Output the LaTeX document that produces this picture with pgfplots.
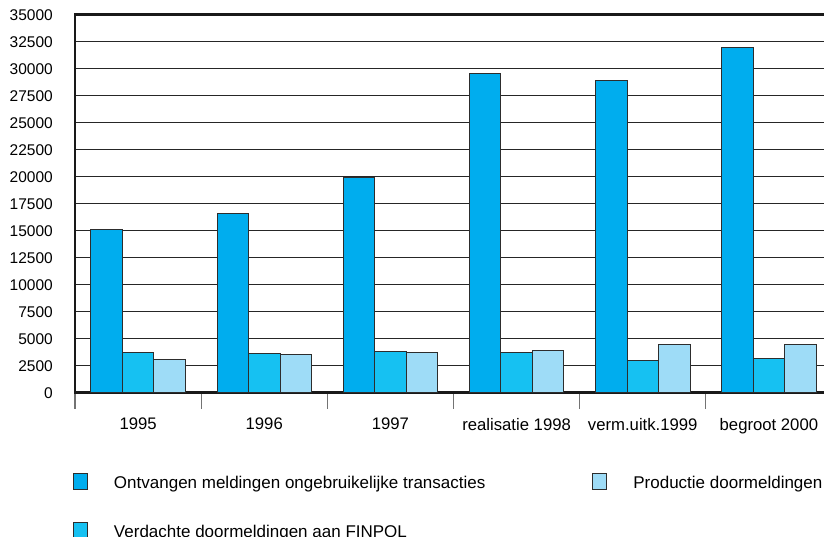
\documentclass[border=0pt]{standalone}
\usepackage{pgfplots}
\pgfplotsset{compat=1.18}
\usepackage{fontspec}
\setmainfont{Liberation Sans}
\definecolor{cA}{RGB}{0,173,238}
\definecolor{cB}{RGB}{22,193,242}
\definecolor{cC}{RGB}{158,220,247}
\definecolor{bord}{RGB}{45,45,45}
\begin{document}
\begin{tikzpicture}
\begin{axis}[
  name=ax,
  scale only axis,
  width=757pt, height=378pt,
  xmin=-0.5, xmax=5.5, ymin=0, ymax=35000,
  enlargelimits=false,
  axis line style={line width=2.6pt, black!90},
  ymajorgrids,
  grid style={black!85, line width=1.2pt},
  ytick distance=2500,
  scaled y ticks=false,
  /pgf/number format/1000 sep={},
  /pgf/number format/assume math mode=true,
  xtick={0,1,2,3,4,5},
  xticklabels={1995,1996,1997,realisatie 1998,verm.uitk.1999,begroot 2000},
  minor xtick={-0.5,0.5,1.5,2.5,3.5,4.5,5.5},
  xtick pos=bottom, ytick pos=left,
  tick align=outside,
  major tick length=0pt,
  minor tick length=16pt,
  minor tick style={black!55, line width=1.3pt},
  xticklabel style={font=\fontsize{16.7}{19}\selectfont, inner sep=0pt, yshift=-25pt},
  yticklabel style={font=\fontsize{15.5}{18}\selectfont, inner sep=0pt, anchor=east, xshift=-22pt},
  legend image code/.code={\draw[#1] (0pt,-6.3pt) rectangle (14pt,9.7pt); \path (40pt,0pt);},
  legend cell align=left,
  legend style={draw=none, fill=none, inner sep=0pt, outer sep=0pt,
    at={(axis description cs:0,0)}, anchor=north west, xshift=-2pt, yshift=-80.3pt,
    font=\fontsize{17}{20}\selectfont,
    nodes={inner sep=0pt},
    row sep=32pt,
    legend columns=2,
    /tikz/every even column/.append style={column sep=107pt}},
]
\addplot[ybar, bar width=31.5pt, bar shift=-31.5pt, fill=cA, draw=bord, line width=1pt, forget plot]
  coordinates {(0,15100) (1,16550) (2,19900) (3,29550) (4,28950) (5,32000)};
\addplot[ybar, bar width=31.5pt, bar shift=0pt, fill=cB, draw=bord, line width=1pt, forget plot]
  coordinates {(0,3750) (1,3650) (2,3800) (3,3700) (4,2950) (5,3150)};
\addplot[ybar, bar width=31.5pt, bar shift=31.5pt, fill=cC, draw=bord, line width=1pt, forget plot]
  coordinates {(0,3050) (1,3550) (2,3750) (3,3900) (4,4480) (5,4480)};
\addlegendimage{fill=cA, draw=bord, line width=1pt}
\addlegendentry{Ontvangen meldingen ongebruikelijke transacties}
\addlegendimage{fill=cC, draw=bord, line width=1pt}
\addlegendentry{Productie doormeldingen}
\addlegendimage{fill=cB, draw=bord, line width=1pt}
\addlegendentry{Verdachte doormeldingen aan FINPOL}
\end{axis}
\pgfresetboundingbox
\path[use as bounding box] (-75pt,-143.3pt) rectangle (749pt,392.7pt);
\end{tikzpicture}
\end{document}
